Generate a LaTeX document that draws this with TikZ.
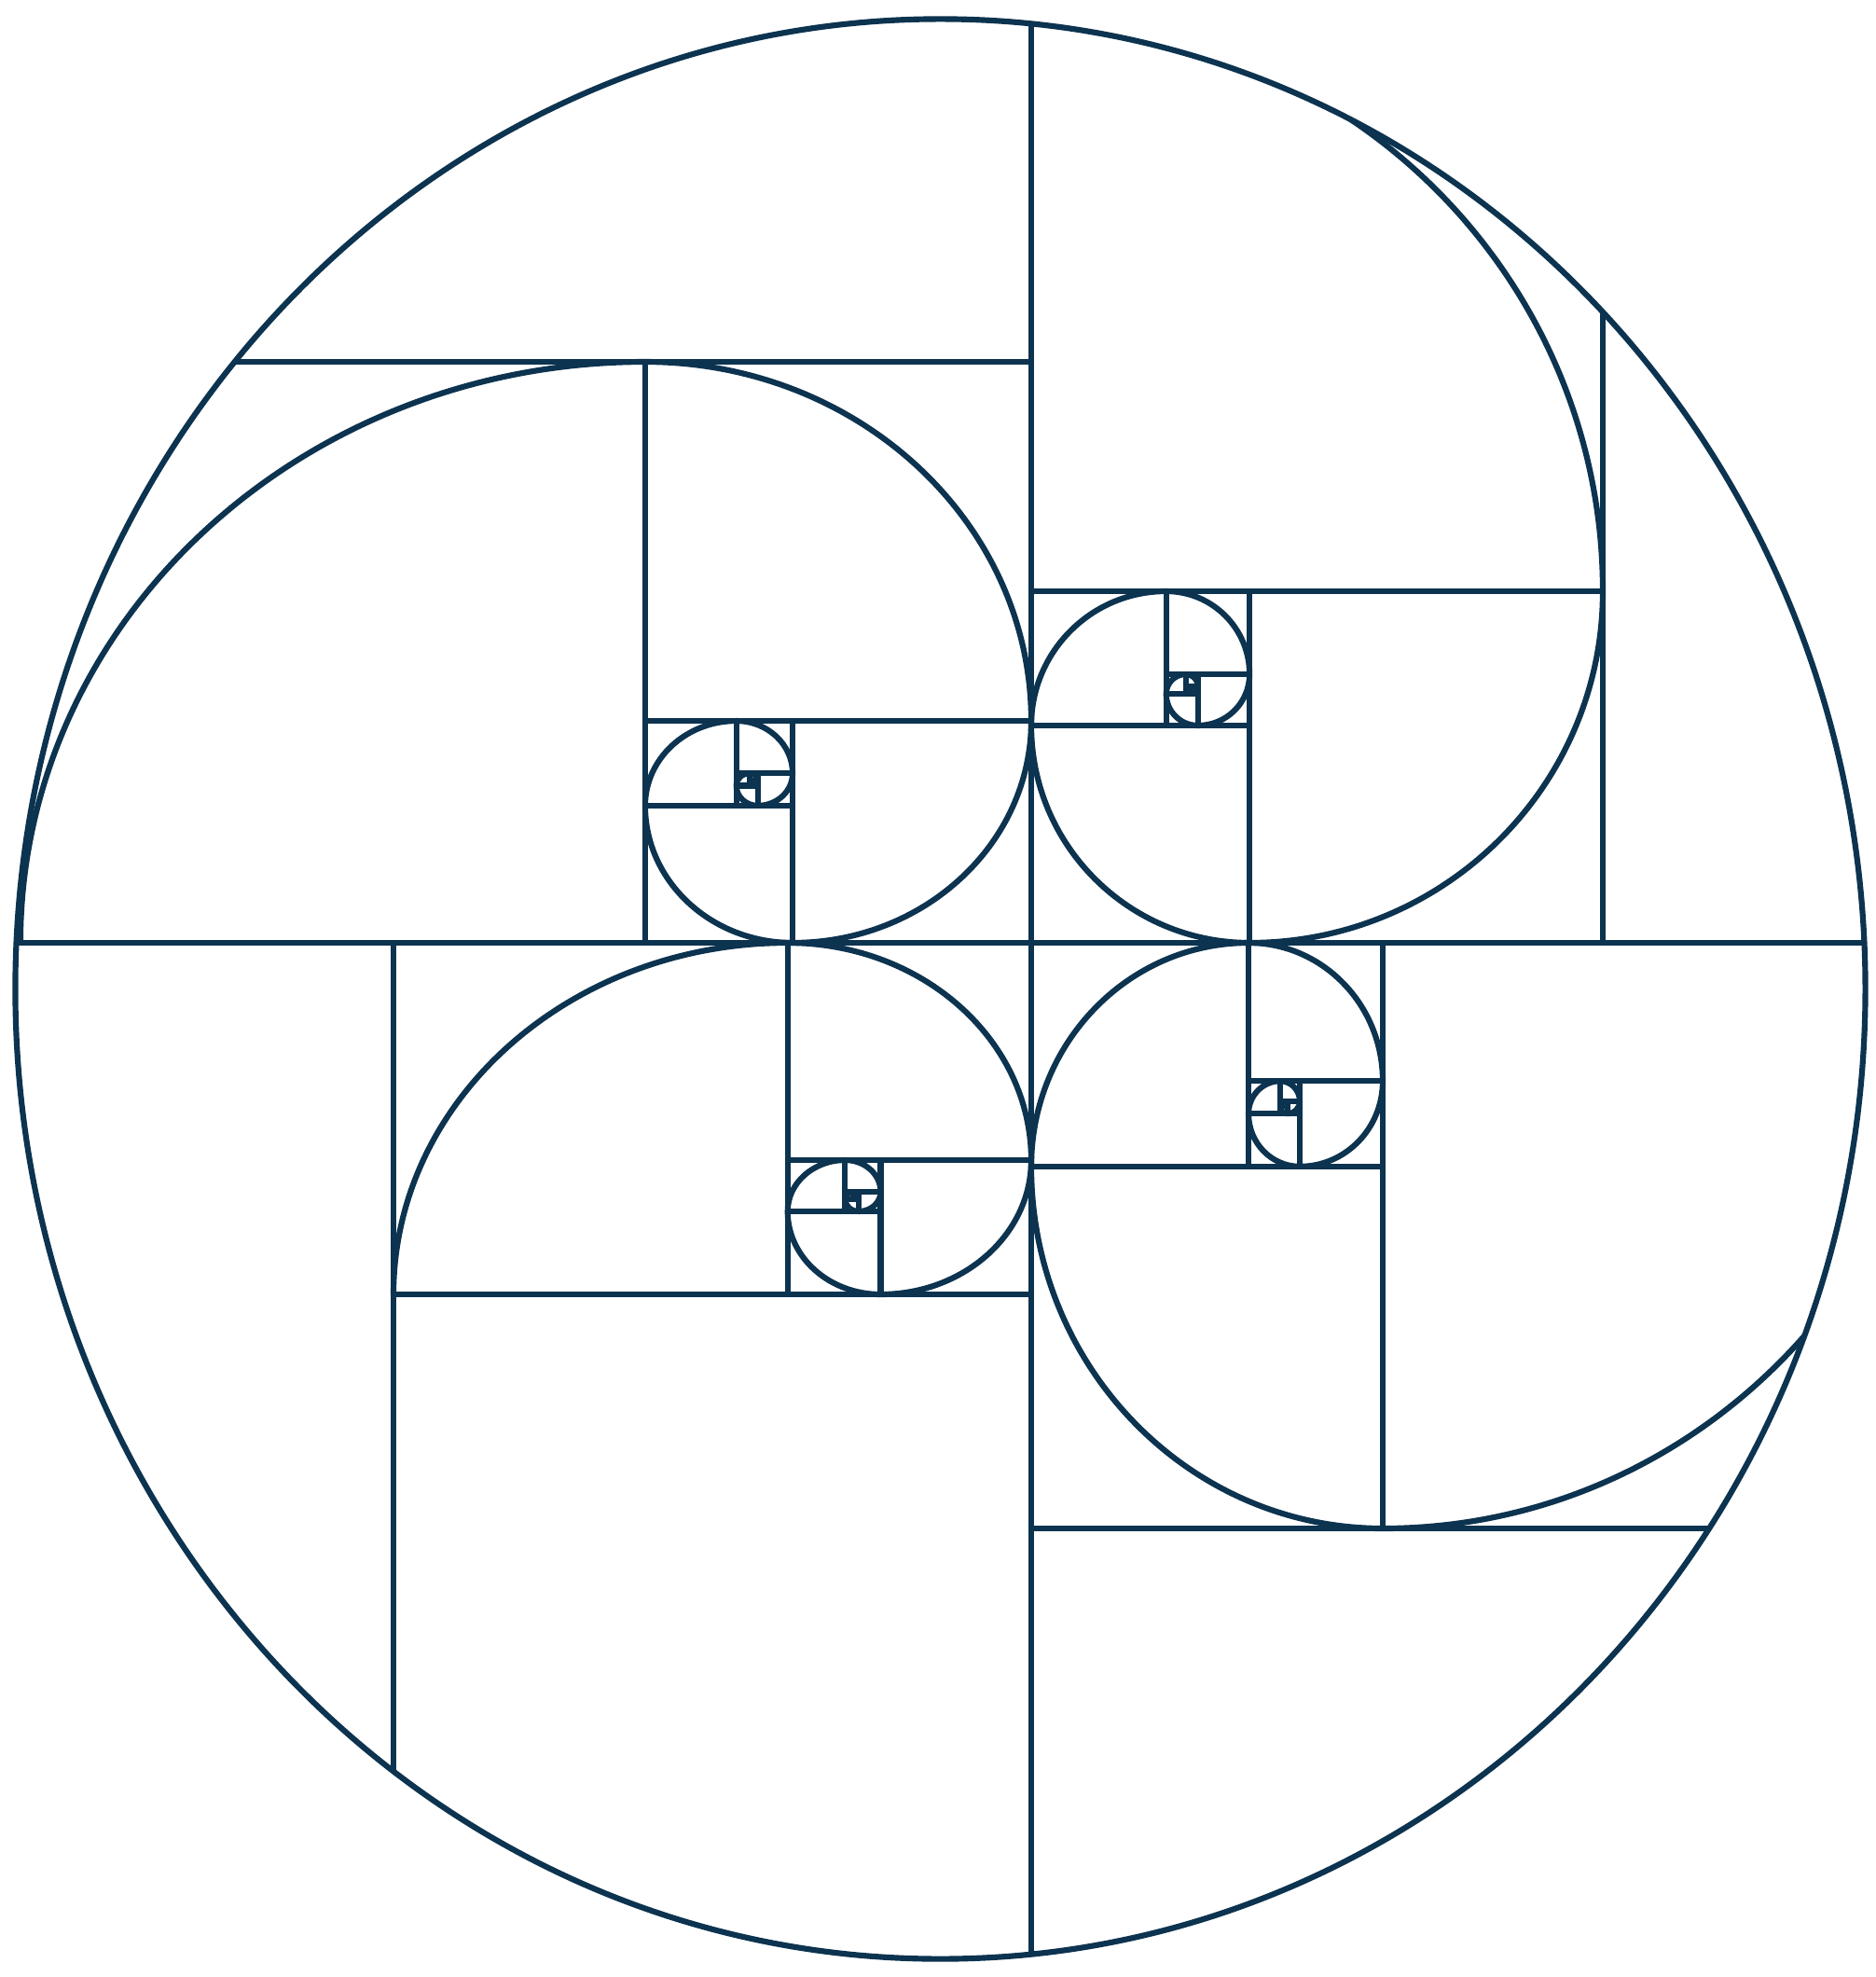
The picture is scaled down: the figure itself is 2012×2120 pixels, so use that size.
\documentclass[tikz,border=0pt]{standalone}
\definecolor{navy}{RGB}{12,51,79}
\tikzset{gline/.style={draw=navy, line width=1.75pt}}
\newcommand\gsp[1]{%
  \ifnum#1>0
    \draw[gline] (1,0) -- (1,1);
    \draw[gline] (0,0) .. controls (0,0.55228) and (0.44772,1) .. (1,1);
    \begin{scope}[shift={(1,1)},rotate=-90,scale=0.618034]
      \gsp{\the\numexpr#1-1\relax}
    \end{scope}
  \fi}
\begin{document}
\begin{tikzpicture}[x=0.01cm,y=0.01cm]
\useasboundingbox (0,0) rectangle (2012,-2120);
\coordinate (C) at (1106,-1011);
\begin{scope}
  \clip (1008.5,-1060.5) ellipse [x radius=9.915cm, y radius=10.395cm];
  % top-left spiral
  \begin{scope}[shift={(21.92,-1011)}, xscale=670, yscale=623]
    \draw[gline] (0,0) -- (1.618034,0) -- (1.618034,1) -- (0,1) -- cycle;
    \gsp{10}
  \end{scope}
  % top-right spiral
  \begin{scope}[shift={(1106,-24)}, xscale=613, yscale=610, rotate=-90]
    \draw[gline] (0,0) -- (1.618034,0) -- (1.618034,1) -- (0,1) -- cycle;
    \gsp{10}
  \end{scope}
  % bottom-right spiral
  \begin{scope}[shift={(2093,-1011)}, xscale=610, yscale=628, rotate=180]
    \draw[gline] (0,0) -- (1.618034,0) -- (1.618034,1) -- (0,1) -- cycle;
    \gsp{10}
  \end{scope}
  % bottom-left spiral (outer square left open)
  \begin{scope}[shift={(1106,-1998)}, xscale=684, yscale=610, rotate=90]
    \draw[gline] (-1,0) -- (1.618034,0) -- (1.618034,1) -- (-1,1);
    \draw[gline] (1,0) -- (1,1);
    \begin{scope}[shift={(1,1)},rotate=-90,scale=0.618034]
      \gsp{9}
    \end{scope}
  \end{scope}
\end{scope}
\draw[gline] (1008.5,-1060.5) ellipse [x radius=9.915cm, y radius=10.395cm];
\end{tikzpicture}
\end{document}
